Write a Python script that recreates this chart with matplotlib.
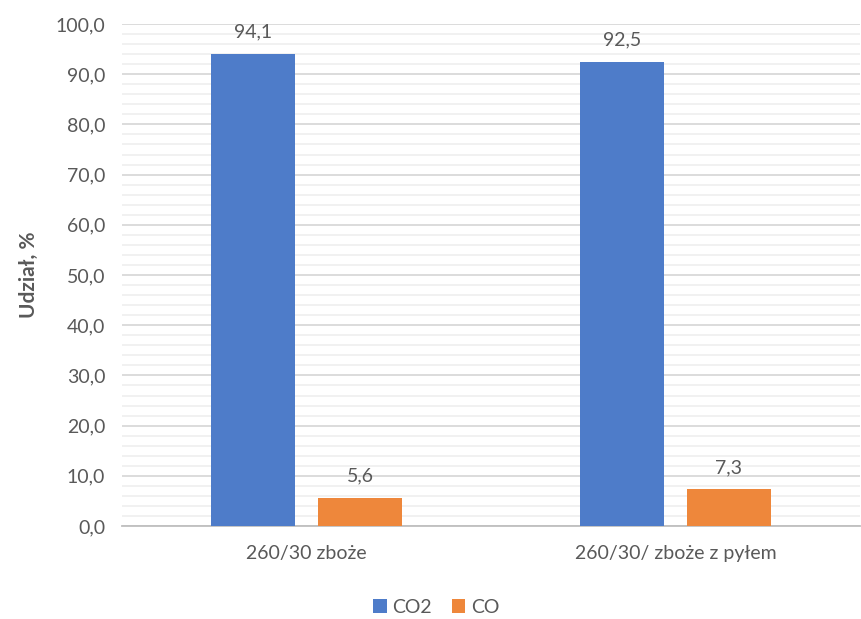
import matplotlib
matplotlib.use("Agg")
import matplotlib.pyplot as plt
import numpy as np
from matplotlib.ticker import MultipleLocator, FuncFormatter

plt.rcParams['font.family'] = ['Lato', 'DejaVu Sans']

categories = ["260/30 zboże", "260/30/ zboże z pyłem"]
series_names = ["CO2", "CO"]
co2_values = [94.1, 92.5]
co_values = [5.6, 7.3]
y_label = "Udział, %"

text_color = "#595959"
colors = ["#4E7CC9", "#EE873B"]

fig = plt.figure(figsize=(8.62, 6.19), dpi=100)
ax = fig.add_axes([0.1415, 0.1502, 0.856, 0.811])

x = np.arange(len(categories))
width = 0.228
offset = 0.145

for vals, name, col, dx in [(co2_values, series_names[0], colors[0], -offset),
                            (co_values, series_names[1], colors[1], offset)]:
    bars = ax.bar(x + dx, vals, width, color=col, label=name, zorder=3)
    for b, v in zip(bars, vals):
        ax.text(b.get_x() + b.get_width() / 2, v + 2.6, f"{v:.1f}".replace(".", ","),
                ha="center", va="bottom", fontsize=14, color=text_color)

ax.set_xlim(-0.5, 1.5)
ax.set_ylim(0, 100)
ax.yaxis.set_major_locator(MultipleLocator(10))
ax.yaxis.set_minor_locator(MultipleLocator(2))
ax.yaxis.set_major_formatter(FuncFormatter(lambda v, p: f"{v:.1f}".replace(".", ",")))
ax.grid(axis="y", which="major", color="#D9D9D9", linewidth=1.3, zorder=0)
ax.grid(axis="y", which="minor", color="#EDEDED", linewidth=1.1, zorder=0)
ax.set_axisbelow(True)

for s in ["top", "right", "left"]:
    ax.spines[s].set_visible(False)
ax.spines["bottom"].set_color("#BFBFBF")
ax.spines["bottom"].set_linewidth(1.3)

ax.set_xticks(x)
ax.set_xticklabels(categories)
ax.tick_params(axis="x", length=0, pad=14, labelsize=14, labelcolor=text_color)
ax.tick_params(axis="y", which="both", length=0, pad=12, labelsize=14, labelcolor=text_color)

ax.set_ylabel(y_label, fontsize=15, fontweight="bold", color=text_color, labelpad=12)

leg = ax.legend(loc="upper center", bbox_to_anchor=(0.426, -0.11), ncol=2, frameon=False,
                fontsize=14, handlelength=0.7, handleheight=0.7, columnspacing=1.0,
                handletextpad=0.3, labelcolor=text_color)

fig.savefig("out.png", dpi=100)
